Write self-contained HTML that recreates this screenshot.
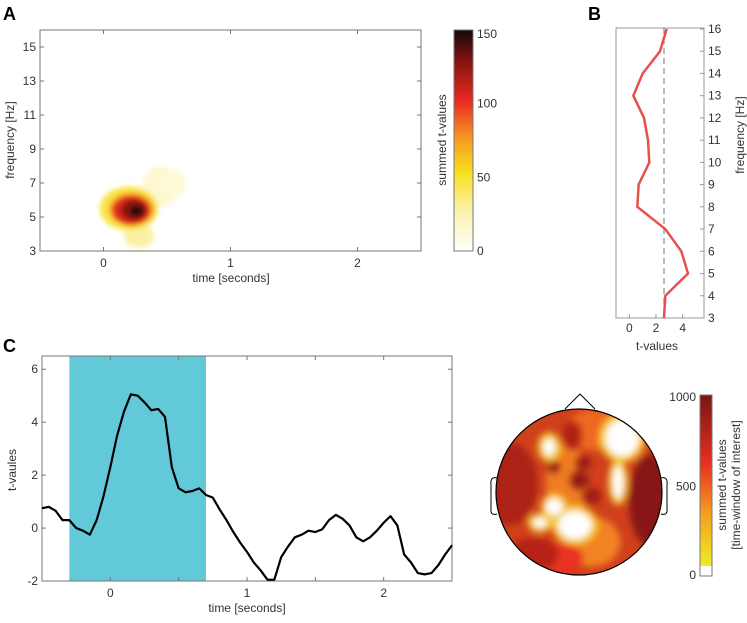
<!DOCTYPE html>
<html><head><meta charset="utf-8"><style>
body{margin:0;background:#fff;}
svg{font-family:"Liberation Sans",sans-serif;}
text{fill:#333;font-size:12px;}
.lbl{font-size:18px;font-weight:bold;fill:#000;}
</style></head><body>
<svg id="fig" width="747" height="618" viewBox="0 0 747 618" xmlns="http://www.w3.org/2000/svg">
<defs>
<linearGradient id="hot" x1="0" y1="1" x2="0" y2="0">
<stop offset="0" stop-color="#ffffff"/><stop offset="0.2" stop-color="#fbf0a0"/><stop offset="0.35" stop-color="#f8e020"/><stop offset="0.5" stop-color="#f5a020"/><stop offset="0.68" stop-color="#e82a20"/><stop offset="0.85" stop-color="#8a1510"/><stop offset="1" stop-color="#120808"/>
</linearGradient>
<linearGradient id="hot2" x1="0" y1="1" x2="0" y2="0">
<stop offset="0" stop-color="#f0ec20"/><stop offset="0.3" stop-color="#f5a020"/><stop offset="0.6" stop-color="#e83020"/><stop offset="1" stop-color="#7a1510"/>
</linearGradient>
<filter id="blurA" x="-50%" y="-50%" width="200%" height="200%"><feGaussianBlur stdDeviation="2.5"/></filter>
<filter id="blurT" x="-50%" y="-50%" width="200%" height="200%"><feGaussianBlur stdDeviation="3.5"/></filter>
<clipPath id="clipA"><rect x="40" y="30" width="381" height="221"/></clipPath>
<clipPath id="clipT"><circle cx="579" cy="492" r="83"/></clipPath>
</defs>
<text class="lbl" x="3" y="20">A</text>
<text class="lbl" x="588" y="20">B</text>
<text class="lbl" x="3" y="352">C</text>
<g id="pa"></g>
<g id="pb"></g>
<g id="pc"></g>
<g id="pt"></g>
</svg>
<script>
// Panel A heatmap blobs (time s, freq Hz, summed t, spread t, spread f)
const blobT=[0.45,0.55,0.28,0.2,0.22,0.22,0.24,0.26];
const blobF=[6.8,7.0,3.9,5.5,5.45,5.4,5.4,5.35];
const blobV=[15,12,28,45,75,105,128,150];
const blobRT=[0.14,0.1,0.12,0.23,0.18,0.15,0.1,0.05];
const blobRF=[1.2,0.8,0.7,1.3,1.0,0.85,0.6,0.3];
const aTicksX=[0,1,2], aTicksY=[3,5,7,9,11,13,15], cbTicks=[0,50,100,150];
// Panel B
const bFreq=[3,4,5,6,7,8,9,10,11,12,13,14,15,16];
const bT=[2.6,2.7,4.4,3.9,2.7,0.6,0.7,1.5,1.4,1.1,0.3,1.0,2.3,2.8];
const bThresh=2.6;
const bTicksX=[0,2,4], bTicksY=[3,4,5,6,7,8,9,10,11,12,13,14,15,16];
// Panel C
const cTime=[-0.5,-0.45,-0.4,-0.35,-0.3,-0.25,-0.2,-0.15,-0.1,-0.05,0,0.05,0.1,0.15,0.2,0.25,0.3,0.35,0.4,0.45,0.5,0.55,0.6,0.65,0.7,0.75,0.8,0.85,0.9,0.95,1.0,1.05,1.1,1.15,1.2,1.25,1.3,1.35,1.4,1.45,1.5,1.55,1.6,1.65,1.7,1.75,1.8,1.85,1.9,1.95,2.0,2.05,2.1,2.15,2.2,2.25,2.3,2.35,2.4,2.45,2.5];
const cVal=[0.75,0.8,0.65,0.3,0.3,0.0,-0.1,-0.25,0.3,1.2,2.3,3.5,4.4,5.05,5.0,4.75,4.45,4.5,4.2,2.3,1.5,1.35,1.4,1.5,1.25,1.15,0.7,0.3,-0.15,-0.55,-0.9,-1.3,-1.6,-1.95,-1.95,-1.1,-0.7,-0.35,-0.25,-0.1,-0.15,-0.05,0.3,0.5,0.35,0.1,-0.35,-0.5,-0.35,-0.1,0.2,0.45,0.1,-1.0,-1.3,-1.7,-1.75,-1.7,-1.4,-1.0,-0.65];
const cWindow=[-0.3,0.7];
const cTicksX=[0,1,2], cTicksY=[-2,0,2,4,6], topoTicks=[0,500,1000];
// Topo regions (unit coords -1..1 with +y = front, value 0..1000; <100 = white, radius x/y unit)
const topoX=[0.2,-0.15,0.15,-0.25,0.85,-0.85,-0.55,0.0,-0.08,-0.3,0.05,0.15,0.52,-0.36,0.47,-0.05,-0.3,-0.47,0.52,-0.36,0.47,-0.05,-0.3,-0.47];
const topoY=[0.75,0.1,-0.6,-0.8,-0.1,0.1,-0.75,0.14,0.68,0.3,0.35,-0.05,0.65,0.54,0.12,-0.4,-0.18,-0.37,0.65,0.54,0.12,-0.4,-0.18,-0.37];
const topoV=[450,400,380,600,950,820,780,900,800,880,850,850,150,150,150,150,150,150,50,50,50,50,50,50];
const topoRX=[0.35,0.25,0.35,0.3,0.25,0.35,0.3,0.12,0.12,0.08,0.1,0.12,0.28,0.14,0.12,0.28,0.16,0.15,0.2,0.07,0.06,0.2,0.1,0.08];
const topoRY=[0.25,0.5,0.3,0.2,0.55,0.5,0.2,0.12,0.18,0.08,0.1,0.1,0.3,0.18,0.28,0.24,0.16,0.12,0.22,0.1,0.2,0.17,0.1,0.06];

const NS='http://www.w3.org/2000/svg';
function mk(p,tag,at){const e=document.createElementNS(NS,tag);for(const k in at)e.setAttribute(k,at[k]);p.appendChild(e);return e;}
function ramp(st,v){v=Math.max(0,Math.min(1,v));
  for(let i=1;i<st.length;i++){if(v<=st[i][0]){const a=st[i-1],b=st[i],f=(v-a[0])/(b[0]-a[0]);return 'rgb('+a[1].map((c,j)=>Math.round(c+(b[1][j]-c)*f)).join(',')+')';}}
  return 'rgb('+st[st.length-1][1].join(',')+')';}
const hot=v=>ramp([[0,[255,255,255]],[0.2,[251,240,160]],[0.35,[248,224,32]],[0.5,[245,160,32]],[0.68,[232,42,32]],[0.85,[138,21,16]],[1,[18,8,8]]],v);
const hot2=v=>ramp([[0,[240,236,32]],[0.3,[245,160,32]],[0.6,[232,48,32]],[1,[122,21,16]]],v);

// ---------- Panel A ----------
const A=document.getElementById('pa');
const ax=t=>40+(t+0.5)/3*381, ay=f=>251-(f-3)/13*221;
const hg=mk(A,'g',{'clip-path':'url(#clipA)'});
const hb=mk(hg,'g',{filter:'url(#blurA)'});
blobT.forEach((t,i)=>{const e=mk(hb,'ellipse',{cx:ax(t),cy:ay(blobF[i]),rx:blobRT[i]*127,ry:blobRF[i]*17,fill:hot(blobV[i]/150)});

});
mk(A,'rect',{x:40,y:30,width:381,height:221,fill:'none',stroke:'#777','stroke-width':1});
aTicksX.forEach(t=>{mk(A,'line',{x1:ax(t),x2:ax(t),y1:251,y2:247,stroke:'#777'});mk(A,'line',{x1:ax(t),x2:ax(t),y1:30,y2:34,stroke:'#777'});
const e=mk(A,'text',{x:ax(t),y:267,'text-anchor':'middle'});e.textContent=t;});
aTicksY.forEach(f=>{mk(A,'line',{x1:40,x2:44,y1:ay(f),y2:ay(f),stroke:'#777'});mk(A,'line',{x1:421,x2:417,y1:ay(f),y2:ay(f),stroke:'#777'});
const e=mk(A,'text',{x:36,y:ay(f)+4,'text-anchor':'end'});e.textContent=f;});
let e=mk(A,'text',{x:231,y:282,'text-anchor':'middle'});e.textContent='time [seconds]';
e=mk(A,'text',{x:14,y:140,'text-anchor':'middle',transform:'rotate(-90 14 140)'});e.textContent='frequency [Hz]';
mk(A,'rect',{x:454,y:30,width:19,height:221,fill:'url(#hot)',stroke:'#777'});
cbTicks.forEach(v=>{const y=251-v/150*221;const t=mk(A,'text',{x:477,y:Math.max(y+4,38)});t.textContent=v;});
e=mk(A,'text',{x:446,y:140,'text-anchor':'middle',transform:'rotate(-90 446 140)'});e.textContent='summed t-values';

// ---------- Panel B ----------
const B=document.getElementById('pb');
const bx=t=>616+(t+1)/6.6*88, by=f=>318-(f-3)/13*289;
mk(B,'rect',{x:616,y:28,width:88,height:290,fill:'none',stroke:'#999'});
mk(B,'line',{x1:bx(bThresh),x2:bx(bThresh),y1:28,y2:318,stroke:'#888','stroke-dasharray':'6,4','stroke-width':1.2,});
bTicksX.forEach(t=>{mk(B,'line',{x1:bx(t),x2:bx(t),y1:318,y2:314,stroke:'#999'});const e=mk(B,'text',{x:bx(t),y:332,'text-anchor':'middle'});e.textContent=t;});
bTicksY.forEach(f=>{mk(B,'line',{x1:704,x2:700,y1:by(f),y2:by(f),stroke:'#999'});const e=mk(B,'text',{x:708,y:by(f)+4});e.textContent=f;});
e=mk(B,'polyline',{points:bFreq.map((f,i)=>bx(bT[i])+','+by(f)).join(' '),fill:'none',stroke:'#e8504a','stroke-width':2.5});

e=mk(B,'text',{x:657,y:350,'text-anchor':'middle'});e.textContent='t-values';
e=mk(B,'text',{x:744,y:135,'text-anchor':'middle',transform:'rotate(-90 744 135)'});e.textContent='frequency [Hz]';

// ---------- Panel C ----------
const C=document.getElementById('pc');
const cx=t=>42+(t+0.5)/3*410, cy=v=>581-(v+2)/8.5*225;
e=mk(C,'rect',{x:cx(cWindow[0]),y:356,width:cx(cWindow[1])-cx(cWindow[0]),height:225,fill:'#62c9d9'});

mk(C,'rect',{x:42,y:356,width:410,height:225,fill:'none',stroke:'#777'});
[-0.5,0,0.5,1,1.5,2,2.5].forEach(t=>{mk(C,'line',{x1:cx(t),x2:cx(t),y1:581,y2:577,stroke:'#777'});mk(C,'line',{x1:cx(t),x2:cx(t),y1:356,y2:360,stroke:'#777'});});
cTicksX.forEach(t=>{const e=mk(C,'text',{x:cx(t),y:597,'text-anchor':'middle'});e.textContent=t;});
cTicksY.forEach(v=>{mk(C,'line',{x1:42,x2:46,y1:cy(v),y2:cy(v),stroke:'#777'});mk(C,'line',{x1:452,x2:448,y1:cy(v),y2:cy(v),stroke:'#777'});const e=mk(C,'text',{x:38,y:cy(v)+4,'text-anchor':'end'});e.textContent=v;});
e=mk(C,'polyline',{points:cTime.map((t,i)=>cx(t)+','+cy(cVal[i])).join(' '),fill:'none',stroke:'#000','stroke-width':2.2,'stroke-linejoin':'round'});

e=mk(C,'text',{x:247,y:612,'text-anchor':'middle'});e.textContent='time [seconds]';
e=mk(C,'text',{x:16,y:470,'text-anchor':'middle',transform:'rotate(-90 16 470)'});e.textContent='t-vaules';

// ---------- Topoplot ----------
const T=document.getElementById('pt');
const tx=u=>579+u*83, ty=u=>492-u*83;
mk(T,'path',{d:'M565 409 L580 394 L595 409',fill:'none',stroke:'#000','stroke-width':1,});
mk(T,'path',{d:'M661 478 Q668 476 667 485 L667 508 Q668 516 661 514',fill:'none',stroke:'#000',});
mk(T,'path',{d:'M497 478 Q490 476 491 485 L491 508 Q490 516 497 514',fill:'none',stroke:'#000',});
const tg=mk(T,'g',{'clip-path':'url(#clipT)'});
mk(tg,'circle',{cx:579,cy:492,r:83,fill:'#d0401c'});
const tb=mk(tg,'g',{filter:'url(#blurT)'});
topoX.forEach((u,i)=>{const c=topoV[i]<100?'#ffffff':hot2(topoV[i]/1000);
const e=mk(tb,'ellipse',{cx:tx(u),cy:ty(topoY[i]),rx:topoRX[i]*83,ry:topoRY[i]*83,fill:c});

});
mk(T,'circle',{cx:579,cy:492,r:83,fill:'none',stroke:'#000','stroke-width':1.2});
mk(T,'rect',{x:700,y:395,width:12,height:171,fill:'url(#hot2)'});
mk(T,'rect',{x:700,y:566,width:12,height:10,fill:'#fff'});
mk(T,'rect',{x:700,y:395,width:12,height:181,fill:'none',stroke:'#777'});
topoTicks.forEach(v=>{const y=576-v/1000*179;const e=mk(T,'text',{x:696,y:Math.min(y+4,579),'text-anchor':'end'});e.textContent=v;});
e=mk(T,'text',{x:726,y:485,'text-anchor':'middle',transform:'rotate(-90 726 485)'});e.textContent='summed t-values';
e=mk(T,'text',{x:740,y:485,'text-anchor':'middle',transform:'rotate(-90 740 485)'});e.textContent='[time-window of interest]';
</script>
</body></html>
